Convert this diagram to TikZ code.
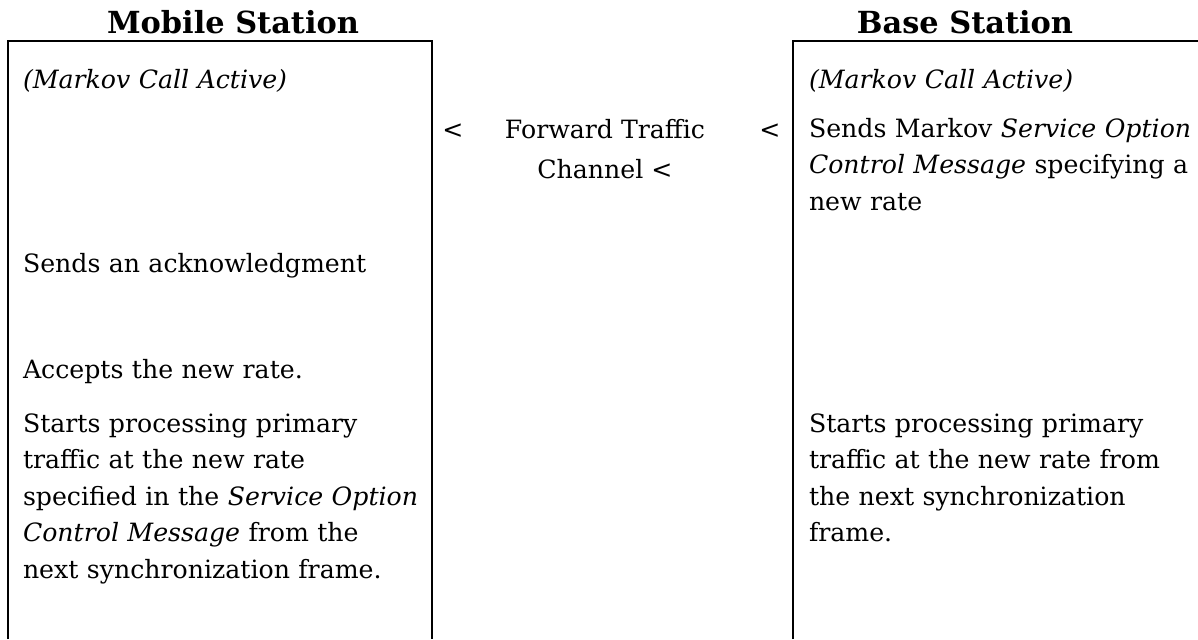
\documentclass[tikz,border=0pt]{standalone}
\usepackage{fontspec}
\setmainfont{DejaVu Serif}
\usetikzlibrary{positioning}

\tikzset{
  txt/.style={anchor=base west, inner sep=0pt, text width=210pt, align=left,
    font=\fontsize{12.6}{18.25}\selectfont},
  head/.style={anchor=base, inner sep=0pt, font=\bfseries\fontsize{15.2}{18}\selectfont},
  lt/.style={anchor=base, inner sep=0pt, font=\fontsize{12.6}{20}\selectfont}
}

\begin{document}
\begin{tikzpicture}[x=0.5pt, y=-0.5pt, line width=1pt]
\useasboundingbox (0,0) rectangle (1198,639);
% the two columns, open at the bottom
\draw (8,639) -- (8,41) -- (432,41) -- (432,639);
\draw (793,639) -- (793,41) -- (1198,41);
\node[head] (MS) at (233,33) {Mobile Station};
\node[head] (BS) at (965,33) {Base Station};
% mobile station side
\node[txt] (m1) at (22,88) {\textit{(Markov Call Active)}};
\node[txt] (m2) at (22,272) {Sends an acknowledgment};
\node[txt] (m3) at (22,378) {Accepts the new rate.};
\node[txt] (m4) at (22,432) {Starts processing primary\\ traffic at the new rate\\ specified in the \textit{Service Option}\\ \textit{Control Message} from the\\ next synchronization frame.};
% base station side
\node[txt] (b1) at (808,88) {\textit{(Markov Call Active)}};
\node[txt] (b2) at (808,137) {Sends Markov \textit{Service Option}\\ \textit{Control Message} specifying a\\ new rate};
\node[txt] (b3) at (808,432) {Starts processing primary\\ traffic at the new rate from\\ the next synchronization\\ frame.};
% channel
\node[lt] (a1) at (453,138) {<};
\node[lt] (a2) at (770,138) {<};
\node[lt, align=center] (fw) at (605,178) {Forward Traffic\\ Channel <};
\end{tikzpicture}
\end{document}
